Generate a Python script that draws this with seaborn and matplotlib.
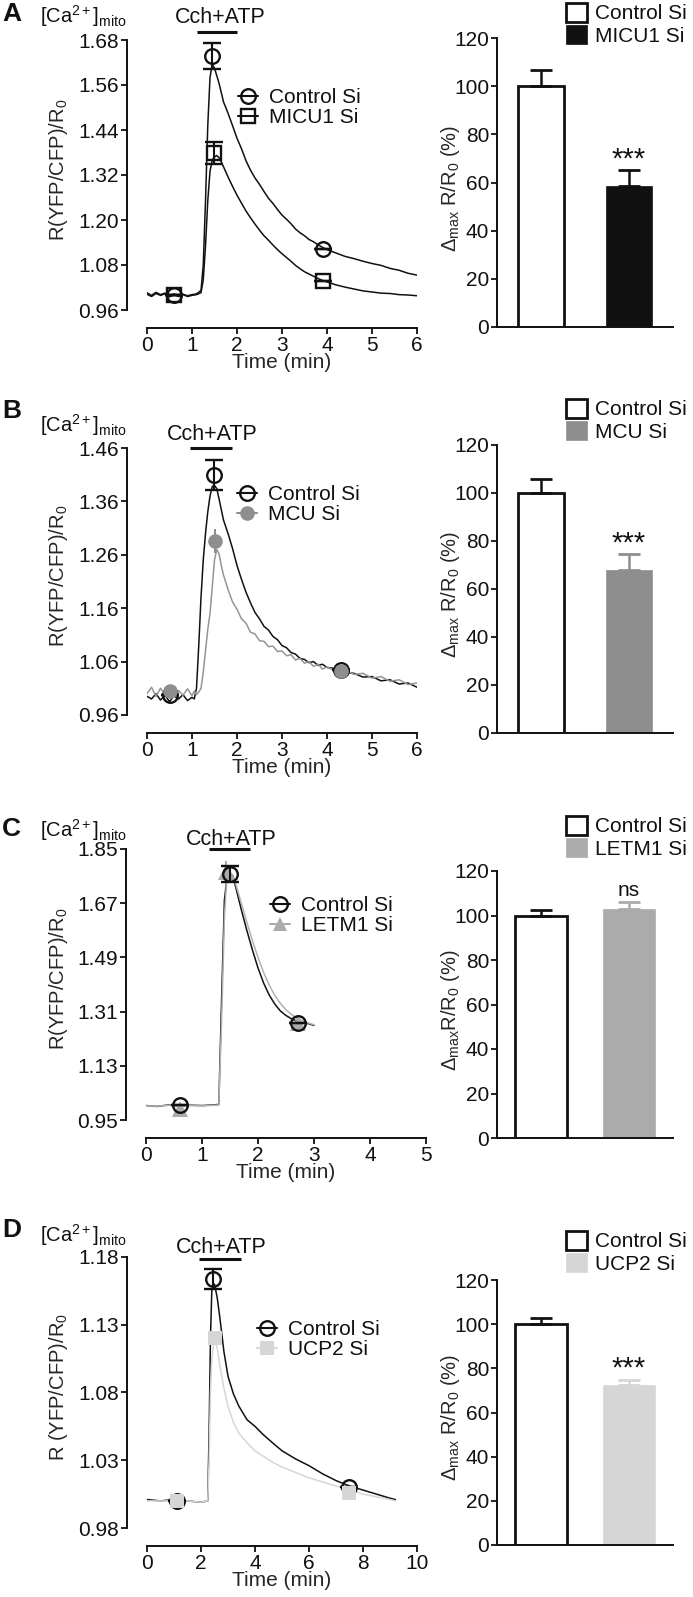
import numpy as np
import pandas as pd
import matplotlib
matplotlib.use("Agg")
import matplotlib.pyplot as plt
import matplotlib.transforms as mtrans
import seaborn as sns
from matplotlib.patches import Patch
from matplotlib.lines import Line2D

sns.set_style("ticks")
plt.rcParams["font.family"] = ["Liberation Sans", "DejaVu Sans"]
plt.rcParams["mathtext.fontset"] = "custom"
plt.rcParams["mathtext.rm"] = "Liberation Sans"
plt.rcParams["mathtext.it"] = "Liberation Sans:italic"
plt.rcParams["mathtext.bf"] = "Liberation Sans:bold"
plt.rcParams["axes.edgecolor"] = "#111111"
plt.rcParams["text.color"] = "#111111"
plt.rcParams["xtick.color"] = "#111111"
plt.rcParams["ytick.color"] = "#111111"

# ---------------- data: traces ----------------
A_time = [0.0, 0.1, 0.2, 0.3, 0.4, 0.5, 0.6, 0.7, 0.8, 0.9, 1.0, 1.1, 1.2,
          1.25, 1.3, 1.35, 1.4, 1.45, 1.5, 1.55, 1.6, 1.65, 1.7,
          1.8, 1.9, 2.0, 2.1, 2.2, 2.3, 2.4, 2.5, 2.6, 2.7, 2.8, 2.9, 3.0, 3.1, 3.2, 3.3, 3.4,
          3.5, 3.6, 3.7, 3.8, 3.9, 4.0,
          4.2, 4.4, 4.6, 4.8, 5.0, 5.2, 5.4, 5.6, 5.8, 6.0]
A_control = [1.006, 0.999, 1.007, 1.001, 1.005, 0.997, 1.003, 0.996, 1.002, 0.998, 1.001, 1.003, 1.012,
             1.08, 1.25, 1.45, 1.58, 1.615, 1.605, 1.585, 1.565, 1.54, 1.515,
             1.485, 1.452, 1.418, 1.39, 1.358, 1.333, 1.312, 1.295, 1.276, 1.258, 1.244, 1.228, 1.213,
             1.202, 1.19, 1.176, 1.166, 1.158, 1.148, 1.142, 1.134, 1.127, 1.121,
             1.112, 1.103, 1.097, 1.09, 1.084, 1.079, 1.071, 1.066, 1.058, 1.053]
A_micu1 = [1.002, 0.996, 1.004, 0.999, 1.003, 0.995, 1.0, 0.997, 1.001, 0.996, 0.999, 1.001, 1.006,
           1.04, 1.13, 1.25, 1.33, 1.36, 1.368, 1.372, 1.366, 1.355, 1.342,
           1.315, 1.29, 1.266, 1.245, 1.224, 1.206, 1.189, 1.173, 1.158, 1.146, 1.133, 1.121, 1.11,
           1.1, 1.09, 1.079, 1.07, 1.062, 1.056, 1.05, 1.044, 1.039, 1.035,
           1.027, 1.021, 1.016, 1.011, 1.008, 1.005, 1.004, 1.001, 1.0, 0.998]

B_time = [0.0, 0.1, 0.2, 0.3, 0.4, 0.5, 0.6, 0.7, 0.8, 0.9, 1.0,
          1.05, 1.1, 1.15, 1.2, 1.25, 1.3, 1.35, 1.4, 1.45, 1.5, 1.55, 1.6, 1.65, 1.7,
          1.8, 1.9, 2.0, 2.1, 2.2, 2.3, 2.4, 2.5, 2.6, 2.7, 2.8, 2.9, 3.0, 3.1, 3.2, 3.3, 3.4,
          3.5, 3.6, 3.7, 3.8, 3.9, 4.0,
          4.2, 4.4, 4.6, 4.8, 5.0, 5.2, 5.4, 5.6, 5.8, 6.0]
B_control = [0.995, 0.99, 1.0, 0.988, 0.997, 0.985, 0.996, 0.99, 0.998, 0.987, 0.993,
             0.99, 1.01, 1.09, 1.18, 1.25, 1.3, 1.34, 1.37, 1.388, 1.39, 1.384, 1.365, 1.345, 1.325,
             1.3, 1.272, 1.24, 1.214, 1.19, 1.17, 1.152, 1.14, 1.126, 1.119, 1.107, 1.101, 1.09,
             1.086, 1.077, 1.074, 1.066, 1.064, 1.058, 1.06, 1.053, 1.055, 1.049,
             1.047, 1.04, 1.038, 1.031, 1.032, 1.024, 1.026, 1.018, 1.02, 1.012]
B_mcu = [1.0, 1.012, 0.995, 1.01, 0.998, 1.008, 0.994, 1.006, 0.997, 1.009, 0.996,
         1.005, 0.998, 1.003, 1.01, 1.04, 1.08, 1.12, 1.15, 1.2, 1.25, 1.27, 1.262, 1.24, 1.222,
         1.195, 1.172, 1.158, 1.14, 1.132, 1.115, 1.112, 1.099, 1.098, 1.088, 1.089, 1.079, 1.08,
         1.071, 1.073, 1.063, 1.066, 1.057, 1.06, 1.051, 1.055, 1.046, 1.05,
         1.042, 1.045, 1.036, 1.038, 1.029, 1.032, 1.023, 1.026, 1.017, 1.02]

C_time = [0.0, 0.2, 0.4, 0.6, 0.8, 1.0, 1.2, 1.3, 1.35, 1.4, 1.45, 1.5, 1.55, 1.6,
          1.7, 1.8, 1.9, 2.0, 2.1, 2.2, 2.3, 2.4, 2.5, 2.6, 2.7, 2.8, 2.9, 3.0]
C_control = [0.998, 0.995, 1.0, 0.997, 0.999, 0.998, 1.0, 1.002, 1.35, 1.68, 1.76, 1.765, 1.762, 1.725,
             1.65, 1.58, 1.515, 1.455, 1.405, 1.365, 1.335, 1.312, 1.297, 1.286, 1.278, 1.272, 1.27, 1.264]
C_letm1 = [0.997, 0.996, 0.999, 0.996, 0.998, 0.997, 0.999, 1.0, 1.28, 1.62, 1.775, 1.775, 1.76, 1.735,
           1.672, 1.607, 1.546, 1.49, 1.44, 1.398, 1.364, 1.337, 1.316, 1.3, 1.289, 1.28, 1.272, 1.266]

D_time = [0.0, 0.5, 1.0, 1.5, 2.0, 2.25, 2.3, 2.35, 2.4, 2.5, 2.6, 2.7, 2.85, 3.0, 3.2,
          3.4, 3.7, 4.0, 4.3, 4.7, 5.0, 5.5, 6.0, 6.5, 7.0, 7.5, 8.0, 8.5, 9.0, 9.2]
D_control = [1.001, 1.0, 1.001, 1.0, 0.999, 1.0, 1.05, 1.12, 1.155, 1.16, 1.15, 1.135, 1.11, 1.092, 1.079,
             1.07, 1.06, 1.055, 1.049, 1.042, 1.037, 1.031, 1.026, 1.02, 1.015, 1.011, 1.008, 1.005, 1.002, 1.001]
D_ucp2 = [1.0, 1.0, 1.0, 1.0, 0.999, 1.0, 1.03, 1.08, 1.105, 1.12, 1.113, 1.1, 1.083, 1.07, 1.058,
          1.05, 1.043, 1.037, 1.033, 1.028, 1.025, 1.021, 1.017, 1.014, 1.011, 1.008, 1.005, 1.003, 1.001, 1.0]

# ---------------- data: markers on traces (time, value, error) ----------------
A_ctrl_mk_t, A_ctrl_mk_v, A_ctrl_mk_e = [0.6, 1.45, 3.9], [1.0, 1.638, 1.123], [0, 0.035, 0]
A_kd_mk_t, A_kd_mk_v, A_kd_mk_e = [0.6, 1.48, 3.9], [1.0, 1.379, 1.038], [0, 0.03, 0]
B_ctrl_mk_t, B_ctrl_mk_v, B_ctrl_mk_e = [0.5, 1.48, 4.3], [0.998, 1.41, 1.044], [0, 0.028, 0]
B_kd_mk_t, B_kd_mk_v, B_kd_mk_e = [0.5, 1.51, 4.3], [1.005, 1.286, 1.043], [0, 0.022, 0]
C_ctrl_mk_t, C_ctrl_mk_v, C_ctrl_mk_e = [0.61, 1.5, 2.71], [1.0, 1.767, 1.272], [0, 0.025, 0]
C_kd_mk_t, C_kd_mk_v, C_kd_mk_e = [0.61, 1.42, 2.71], [0.985, 1.775, 1.272], [0, 0.035, 0]
D_ctrl_mk_t, D_ctrl_mk_v, D_ctrl_mk_e = [1.1, 2.45, 7.48], [1.0, 1.164, 1.010], [0, 0.0075, 0]
D_kd_mk_t, D_kd_mk_v, D_kd_mk_e = [1.1, 2.52, 7.48], [1.0, 1.12, 1.006], [0, 0.003, 0]

# ---------------- data: bar charts ----------------
bar_groups_A = ["Control Si", "MICU1 Si"]
bar_vals_A, bar_err_A = [100, 58.5], [6.8, 6.8]
bar_groups_B = ["Control Si", "MCU Si"]
bar_vals_B, bar_err_B = [100, 68], [6.0, 6.5]
bar_groups_C = ["Control Si", "LETM1 Si"]
bar_vals_C, bar_err_C = [100, 103], [2.6, 3.2]
bar_groups_D = ["Control Si", "UCP2 Si"]
bar_vals_D, bar_err_D = [100, 72.3], [2.7, 2.6]
sig_A, sig_B, sig_C, sig_D = "***", "***", "ns", "***"

# ---------------- tick labels ----------------
A_yticks = [0.96, 1.08, 1.20, 1.32, 1.44, 1.56, 1.68]
B_yticks = [0.96, 1.06, 1.16, 1.26, 1.36, 1.46]
C_yticks = [0.95, 1.13, 1.31, 1.49, 1.67, 1.85]
D_yticks = [0.98, 1.03, 1.08, 1.13, 1.18]
A_xticks = [0, 1, 2, 3, 4, 5, 6]
B_xticks = [0, 1, 2, 3, 4, 5, 6]
C_xticks = [0, 1, 2, 3, 4, 5]
D_xticks = [0, 2, 4, 6, 8, 10]
bar_yticks = [0, 20, 40, 60, 80, 100, 120]

W, H = 693, 1597
fig = plt.figure(figsize=(W / 100, H / 100), dpi=100)
PX = 72 / 100.0  # points per pixel


def rect(x0, x1, ytop, ybot):
    return [x0 / W, 1 - ybot / H, (x1 - x0) / W, (ybot - ytop) / H]


def fx(x):
    return x / W


def fy(y):
    return 1 - y / H


FS = 15

panels = [
    dict(letter="A", time=A_time, ctrl=A_control, kd=A_micu1, kdname="MICU1 Si",
         kdcolor="#111111", kdmarker="s", kdfill="none", kdline="#111111",
         ctrl_mk=(A_ctrl_mk_t, A_ctrl_mk_v, A_ctrl_mk_e), kd_mk=(A_kd_mk_t, A_kd_mk_v, A_kd_mk_e),
         yticks=A_yticks, xticks=A_xticks, left=(147, 417, 40, 310),
         bar_rect=(497, 673, 38, 327), groups=bar_groups_A, bvals=bar_vals_A, berr=bar_err_A,
         barcolor="#111111", bwidth=0.53, sig=sig_A,
         stim=(1.1, 2.0, 1.03), stimtext=(1.62, 1.085),
         ylab=r"R(YFP/CFP)/R$_0$", ca_y=16, letter_y=14,
         leg=(238, 88), rleg=(566, 3), kd_first=False),
    dict(letter="B", time=B_time, ctrl=B_control, kd=B_mcu, kdname="MCU Si",
         kdcolor="#8e8e8e", kdmarker="o", kdfill="#8e8e8e", kdline="#959595",
         ctrl_mk=(B_ctrl_mk_t, B_ctrl_mk_v, B_ctrl_mk_e), kd_mk=(B_kd_mk_t, B_kd_mk_v, B_kd_mk_e),
         yticks=B_yticks, xticks=B_xticks, left=(147, 417, 448, 715),
         bar_rect=(497, 673, 445, 733), groups=bar_groups_B, bvals=bar_vals_B, berr=bar_err_B,
         barcolor="#8e8e8e", bwidth=0.53, sig=sig_B,
         stim=(0.96, 1.89, 1.0), stimtext=(1.46, 1.05),
         ylab=r"R(YFP/CFP)/R$_0$", ca_y=425, letter_y=411,
         leg=(237, 485), rleg=(566, 399), kd_first=False),
    dict(letter="C", time=C_time, ctrl=C_control, kd=C_letm1, kdname="LETM1 Si",
         kdcolor="#ababab", kdmarker="^", kdfill="#ababab", kdline="#b2b2b2",
         ctrl_mk=(C_ctrl_mk_t, C_ctrl_mk_v, C_ctrl_mk_e), kd_mk=(C_kd_mk_t, C_kd_mk_v, C_kd_mk_e),
         yticks=C_yticks, xticks=C_xticks, left=(146, 426, 849, 1120),
         bar_rect=(497, 673, 871, 1138), groups=bar_groups_C, bvals=bar_vals_C, berr=bar_err_C,
         barcolor="#ababab", bwidth=0.6, sig=sig_C,
         stim=(1.13, 1.86, 1.0), stimtext=(1.53, 1.034),
         ylab=r"R(YFP/CFP)/R$_0$", ca_y=830, letter_y=829,
         leg=(270, 896), rleg=(566, 816), kd_first=True),
    dict(letter="D", time=D_time, ctrl=D_control, kd=D_ucp2, kdname="UCP2 Si",
         kdcolor="#d6d6d6", kdmarker="s", kdfill="#d6d6d6", kdline="#d6d6d6",
         ctrl_mk=(D_ctrl_mk_t, D_ctrl_mk_v, D_ctrl_mk_e), kd_mk=(D_kd_mk_t, D_kd_mk_v, D_kd_mk_e),
         yticks=D_yticks, xticks=D_xticks, left=(147, 417, 1257, 1528),
         bar_rect=(497, 673, 1280, 1545), groups=bar_groups_D, bvals=bar_vals_D, berr=bar_err_D,
         barcolor="#d6d6d6", bwidth=0.6, sig=sig_D,
         stim=(1.93, 3.48, 0.993), stimtext=(2.74, 1.034),
         ylab=r"R (YFP/CFP)/R$_0$", ca_y=1235, letter_y=1230,
         leg=(257, 1320), rleg=(566, 1231), kd_first=False),
]

for p in panels:
    # ---------------- left trace panel ----------------
    x0, x1, yt, yb = p["left"]
    ax = fig.add_axes(rect(x0, x1, yt, yb))
    df = pd.DataFrame({"t": p["time"], "ctrl": p["ctrl"], "kd": p["kd"]})
    order = ["kd", "ctrl"] if p["kd_first"] else ["ctrl", "kd"]
    for key in order:
        col = "#111111" if key == "ctrl" else p["kdline"]
        sns.lineplot(data=df, x="t", y=key, ax=ax, color=col, lw=1.1, estimator=None,
                     zorder=2 if key == "ctrl" else 3)

    def draw_markers(mk, is_ctrl, z):
        t, v, e = mk
        if is_ctrl:
            ax.errorbar(t, v, yerr=e, fmt="o", ms=10.5, mfc="none", mec="#111111", mew=1.7,
                        ecolor="#111111", elinewidth=1.5, capsize=6.5, capthick=1.7,
                        zorder=z, clip_on=False)
        else:
            ms = 10.5 if p["kdmarker"] != "^" else 11
            mew = 1.7 if p["kdfill"] == "none" else 0
            ax.errorbar(t, v, yerr=e, fmt=p["kdmarker"], ms=ms, mfc=p["kdfill"],
                        mec=p["kdcolor"], mew=mew, ecolor=p["kdcolor"], elinewidth=1.5,
                        capsize=6.5, capthick=1.7, zorder=z, clip_on=False)

    if p["kd_first"]:
        draw_markers(p["kd_mk"], False, 4)
        draw_markers(p["ctrl_mk"], True, 5)
    else:
        draw_markers(p["ctrl_mk"], True, 4)
        draw_markers(p["kd_mk"], False, 5)

    yt_ = p["yticks"]
    ax.set_ylim(yt_[0], yt_[-1])
    ax.set_yticks(yt_)
    ax.set_yticklabels([f"{v:.2f}" for v in yt_])
    ax.set_xlim(p["xticks"][0], p["xticks"][-1])
    ax.set_xticks(p["xticks"])
    ax.spines["top"].set_visible(False)
    ax.spines["right"].set_visible(False)
    ax.spines["left"].set_position(("outward", 20 * PX))
    ax.spines["bottom"].set_position(("outward", 18 * PX))
    for s in ("left", "bottom"):
        ax.spines[s].set_linewidth(1.4)
    ax.tick_params(axis="both", labelsize=FS, length=4, width=1.3, pad=1.5, direction="out")
    ax.set_xlabel("Time (min)", fontsize=FS, labelpad=-1)
    ax.set_ylabel(p["ylab"], fontsize=14.5)
    ax.yaxis.set_label_coords((70 - x0) / (x1 - x0), 0.52)

    trans = mtrans.blended_transform_factory(ax.transData, ax.transAxes)
    s0, s1, sy = p["stim"]
    ax.plot([s0, s1], [sy, sy], color="#111111", lw=2.2, transform=trans, clip_on=False,
            solid_capstyle="butt")
    tx, ty = p["stimtext"]
    ax.text(tx, ty, "Cch+ATP", transform=trans, ha="center", va="center", fontsize=15.5)

    # legend inside trace panel
    h_ctrl = Line2D([0], [0], color="#111111", lw=1.5, marker="o", ms=10.5, mfc="none",
                    mec="#111111", mew=1.7)
    h_kd = Line2D([0], [0], color=p["kdcolor"], lw=1.5, marker=p["kdmarker"], ms=10.5,
                  mfc=p["kdfill"], mec=p["kdcolor"], mew=1.7 if p["kdfill"] == "none" else 0)
    lx, ly = p["leg"]
    ax.legend([h_ctrl, h_kd], ["Control Si", p["kdname"]], loc="upper left",
              bbox_to_anchor=(fx(lx), fy(ly)), bbox_transform=fig.transFigure,
              frameon=False, fontsize=FS, handlelength=0.95, handletextpad=0.55,
              borderpad=0, borderaxespad=0, labelspacing=0.05)

    fig.text(fx(2), fy(p["letter_y"]), p["letter"], fontsize=19, fontweight="bold",
             ha="left", va="center")
    fig.text(fx(40), fy(p["ca_y"]), r"[Ca$^{2+}$]$_{\mathrm{mito}}$", fontsize=14.5,
             ha="left", va="center")

    # ---------------- right bar panel ----------------
    bx0, bx1, byt, byb = p["bar_rect"]
    bax = fig.add_axes(rect(bx0, bx1, byt, byb))
    bdf = pd.DataFrame({"group": p["groups"], "value": p["bvals"]})
    sns.barplot(data=bdf, x="group", y="value", hue="group",
                palette=["white", p["barcolor"]], width=p["bwidth"], ax=bax,
                errorbar=None, legend=False, saturation=1)
    for i, patch in enumerate(bax.patches):
        if i == 0:
            patch.set_edgecolor("#111111")
            patch.set_linewidth(2.0)
        else:
            patch.set_edgecolor(p["barcolor"])
            patch.set_linewidth(0.5)
    for i in range(2):
        ec = "#111111" if i == 0 else p["barcolor"]
        bax.errorbar([i], [p["bvals"][i]], yerr=[[0], [p["berr"][i]]], fmt="none",
                     ecolor=ec, elinewidth=1.8, capsize=8, capthick=2.0, zorder=1)
    top = p["bvals"][1] + p["berr"][1]
    if p["sig"] == "ns":
        bax.text(1, top + 0.8, p["sig"], ha="center", va="bottom", fontsize=FS)
    else:
        bax.text(1, top - 1.5, p["sig"], ha="center", va="bottom", fontsize=21)
    bax.set_xlim(-0.5, 1.5)
    bax.set_ylim(0, 120)
    bax.set_yticks(bar_yticks)
    bax.set_xticks([])
    bax.set_xlabel("")
    bax.spines["top"].set_visible(False)
    bax.spines["right"].set_visible(False)
    for s in ("left", "bottom"):
        bax.spines[s].set_linewidth(1.4)
    bax.tick_params(axis="y", labelsize=FS, length=4, width=1.3, pad=1.5)
    if p["letter"] == "C":
        blab = r"$\Delta_{\mathrm{max}}$R/R$_0$ (%)"
    else:
        blab = r"$\Delta_{\mathrm{max}}$ R/R$_0$ (%)"
    bax.set_ylabel(blab, fontsize=14.5)
    bax.yaxis.set_label_coords((462 - bx0) / (bx1 - bx0), 0.48)

    hc = Patch(facecolor="white", edgecolor="#111111", linewidth=2.0)
    hk = Patch(facecolor=p["barcolor"], edgecolor=p["barcolor"], linewidth=0.5)
    rx, ry = p["rleg"]
    bax.legend([hc, hk], p["groups"], loc="upper left",
               bbox_to_anchor=(fx(rx), fy(ry)), bbox_transform=fig.transFigure,
               frameon=False, fontsize=FS, handlelength=1.0, handleheight=1.0,
               handletextpad=0.4, borderpad=0, borderaxespad=0, labelspacing=0.08)

fig.savefig("out.png", dpi=100)
